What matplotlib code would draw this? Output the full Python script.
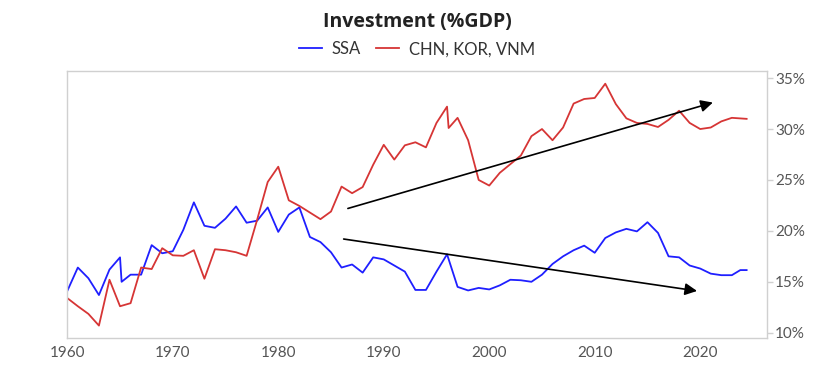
import numpy as np
import matplotlib
matplotlib.use("Agg")
import matplotlib.pyplot as plt
from matplotlib.ticker import FuncFormatter

plt.rcParams['font.family'] = ['Lato', 'DejaVu Sans']

# SSA series (1965 appears twice: the line drops straight down there)
ssa_years = [1960, 1961, 1962, 1963, 1964, 1965, 1965.15, 1966, 1967, 1968, 1969,
             1970, 1971, 1972, 1973, 1974, 1975, 1976, 1977, 1978, 1979,
             1980, 1981, 1982, 1983, 1984, 1985, 1986, 1987, 1988, 1989,
             1990, 1991, 1992, 1993, 1994, 1995, 1996, 1997, 1998, 1999,
             2000, 2001, 2002, 2003, 2004, 2005, 2006, 2007, 2008, 2009,
             2010, 2011, 2012, 2013, 2014, 2015, 2016, 2017, 2018, 2019,
             2020, 2021, 2022, 2023, 2023.8, 2024.4]
ssa = [14.1, 16.4, 15.35, 13.7, 16.2, 17.4, 15.0, 15.7, 15.7, 18.6, 17.8,
       18.0, 20.1, 22.8, 20.5, 20.3, 21.2, 22.4, 20.8, 21.0, 22.3,
       19.9, 21.6, 22.3, 19.4, 18.9, 17.9, 16.4, 16.7, 15.9, 17.4,
       17.2, 16.6, 16.0, 14.2, 14.2, 16.0, 17.7, 14.5, 14.15, 14.4,
       14.25, 14.65, 15.2, 15.15, 15.0, 15.7, 16.75, 17.5, 18.1, 18.55,
       17.85, 19.3, 19.85, 20.2, 19.95, 20.85, 19.8, 17.5, 17.4, 16.6,
       16.3, 15.8, 15.65, 15.65, 16.15, 16.15]

# CHN, KOR, VNM series (1996 appears twice)
asia_years = [1960, 1961, 1962, 1963, 1964, 1965, 1966, 1967, 1968, 1969,
              1970, 1971, 1972, 1973, 1974, 1975, 1976, 1977, 1978, 1979,
              1980, 1981, 1982, 1983, 1984, 1985, 1986, 1987, 1988, 1989,
              1990, 1991, 1992, 1993, 1994, 1995, 1996, 1996.15, 1997, 1998, 1999,
              2000, 2001, 2002, 2003, 2004, 2005, 2006, 2007, 2008, 2009,
              2010, 2011, 2012, 2013, 2014, 2015, 2016, 2017, 2018, 2019,
              2020, 2021, 2022, 2023, 2024.4]
asia = [13.4, 12.6, 11.85, 10.7, 15.2, 12.6, 12.9, 16.4, 16.25, 18.3,
        17.6, 17.55, 18.1, 15.3, 18.2, 18.1, 17.9, 17.55, 21.1, 24.8,
        26.3, 23.0, 22.45, 21.8, 21.15, 21.9, 24.35, 23.7, 24.3, 26.5,
        28.45, 27.0, 28.4, 28.7, 28.2, 30.6, 32.2, 30.1, 31.1, 28.9, 25.0,
        24.45, 25.7, 26.55, 27.4, 29.3, 30.0, 28.9, 30.15, 32.5, 32.95,
        33.05, 34.45, 32.45, 31.05, 30.6, 30.5, 30.2, 30.9, 31.8, 30.6,
        30.0, 30.15, 30.75, 31.1, 31.0]

# trend arrows: (start year, start value, end year, end value)
arrow_up = (1986.6, 22.2, 2021.2, 32.6)
arrow_down = (1986.2, 19.2, 2019.7, 14.1)

fig = plt.figure(figsize=(8.4, 3.73), dpi=100)
ax = fig.add_axes([0.0801, 0.0938, 0.8326, 0.7159])

l1, = ax.plot(ssa_years, ssa, color='#1f1fff', lw=1.3, label='SSA')
l2, = ax.plot(asia_years, asia, color='#d63535', lw=1.3, label='CHN, KOR, VNM')

for x0, y0, x1, y1 in (arrow_up, arrow_down):
    ax.annotate('', xy=(x1, y1), xytext=(x0, y0),
                arrowprops=dict(arrowstyle='-|>', color='black', lw=1.2,
                                mutation_scale=18, shrinkA=0, shrinkB=0))

ax.set_xlim(1960, 2026.3)
ax.set_ylim(9.48, 35.7)
ax.set_xticks([1960, 1970, 1980, 1990, 2000, 2010, 2020])
ax.set_yticks([10, 15, 20, 25, 30, 35])
ax.yaxis.set_major_formatter(FuncFormatter(lambda v, p: f'{v:.0f}%'))
ax.yaxis.tick_right()

for s in ax.spines.values():
    s.set_color('#d0d0d0')
    s.set_linewidth(1.0)

ax.tick_params(axis='y', colors='#d0d0d0', labelcolor='#555555', labelsize=11,
               length=4, width=1, pad=2)
ax.tick_params(axis='x', colors='#d0d0d0', labelcolor='#555555', labelsize=11,
               length=0, pad=6)

fig.text(0.4965, 0.94, 'Investment (%GDP)', ha='center', va='center',
         fontsize=14, fontweight='bold', color='#222222',
         family=['Open Sans', 'DejaVu Sans'])
fig.legend(handles=[l1, l2], loc='center', bbox_to_anchor=(0.4965, 0.868),
           ncol=2, frameon=False, fontsize=12, handlelength=1.4,
           handletextpad=0.6, columnspacing=0.9, labelcolor='#333333')

fig.savefig('out.png', dpi=100)
